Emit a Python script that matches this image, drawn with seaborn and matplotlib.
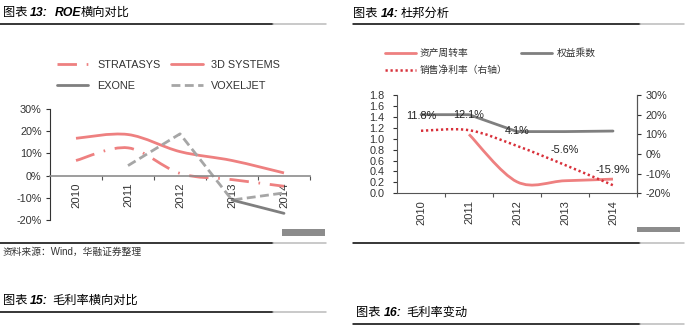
import numpy as np
import matplotlib
matplotlib.use("Agg")
import matplotlib.pyplot as plt
import seaborn as sns
from matplotlib.path import Path
from matplotlib.patches import PathPatch, Rectangle
from matplotlib.lines import Line2D
from matplotlib.ticker import FuncFormatter, FixedLocator

# ---- data ----
years = ["2010", "2011", "2012", "2013", "2014"]

# 图表13: ROE (%)
stratasys = [6.8, 12.5, 1.0, -1.8, -4.8]
systems_3d = [16.8, 18.5, 10.8, 6.8, 1.2]
exone = [np.nan, np.nan, np.nan, -11.0, -17.0]
voxeljet = [np.nan, 4.5, 18.8, -11.0, -7.8]

# 图表14: 杜邦分析
asset_turnover = [np.nan, 1.08, 0.21, 0.23, 0.26]
equity_multiplier = [1.44, 1.44, 1.13, 1.13, 1.14]
net_margin = [11.8, 12.1, 4.1, -5.6, -15.9]   # %, right axis

W, H = 687, 325
PINK = "#EE8080"
GRAY = "#7F7F7F"
LGRAY = "#A6A6A6"
RED = "#D8303A"
TXT = "#333333"

sns.set_theme(style="white")
plt.rcParams["font.family"] = ["Liberation Sans", "Noto Sans CJK SC"]
plt.rcParams["axes.unicode_minus"] = False

fig = plt.figure(figsize=(W / 100, H / 100), dpi=100)
fig.patch.set_facecolor("white")


def fx(x):
    return x / W


def fy(y):
    return 1 - y / H


def rule(x0, x1, xg, y):
    fig.add_artist(Line2D([fx(x0), fx(xg)], [fy(y), fy(y)], color="black", lw=1.1))
    fig.add_artist(Line2D([fx(xg), fx(x1)], [fy(y), fy(y)], color="#BBBBBB", lw=1.1))


def smooth_path(xs, ys):
    # Excel-style smoothed line: bezier through the data points
    pts = [(x, y) for x, y in zip(xs, ys) if not np.isnan(y)]
    verts = [pts[0]]
    codes = [Path.MOVETO]
    n = len(pts)
    for i in range(n - 1):
        p0, p1 = pts[max(i - 1, 0)], pts[i]
        p2, p3 = pts[i + 1], pts[min(i + 2, n - 1)]
        c1 = (p1[0] + (p2[0] - p0[0]) / 6, p1[1] + (p2[1] - p0[1]) / 6)
        c2 = (p2[0] - (p3[0] - p1[0]) / 6, p2[1] - (p3[1] - p1[1]) / 6)
        verts += [c1, c2, p2]
        codes += [Path.CURVE4] * 3
    return Path(verts, codes)


def title(x, y, parts):
    for xx, s, bold in parts:
        fig.text(fx(xx), fy(y), s, fontsize=8.8, color="black", va="center", ha="left",
                 fontweight="bold" if bold else "normal",
                 fontstyle="italic" if bold else "normal")


def setup_cat_axis(ax, pad, size):
    ax.set_xlim(-0.5, 4.5)
    ax.xaxis.set_major_locator(FixedLocator(range(5)))
    ax.set_xticklabels(years, rotation=90, va="top", ha="center", fontsize=size, color=TXT)
    ax.xaxis.set_minor_locator(FixedLocator([0.5, 1.5, 2.5, 3.5, 4.5]))
    ax.tick_params(axis="x", which="major", length=0, pad=pad)
    ax.tick_params(axis="x", which="minor", length=3, width=0.8, color="#555555",
                   direction="out", bottom=True)
    ax.set_xlabel("")
    ax.set_ylabel("")


xpos = np.arange(5)

# ---------------- 图表13 ----------------
title(0, 13, [(3, "图表", False), (30, "13:", True), (55, "ROE", True), (81, "横向对比", False)])
rule(0, 326, 273, 24)

ax1 = fig.add_axes([fx(50), fy(220), 260 / W, 111 / H])
ax1.set_facecolor("white")
sns.lineplot(x=xpos, y=voxeljet, ax=ax1, color=LGRAY, lw=2, dashes=False)
ax1.lines[-1].set_dashes((3.2, 1.6))
sns.lineplot(x=xpos, y=exone, ax=ax1, color=GRAY, lw=2)
ax1.add_patch(PathPatch(smooth_path(xpos, systems_3d), fill=False, ec=PINK, lw=2))
ax1.add_patch(PathPatch(smooth_path(xpos, stratasys), fill=False, ec=PINK, lw=2,
                        ls=(0, (7, 3.5, 0.6, 3.5))))
ax1.set_ylim(-20, 30)
for s in ["top", "right"]:
    ax1.spines[s].set_visible(False)
ax1.spines["left"].set_color("#333333")
ax1.spines["left"].set_linewidth(0.8)
ax1.spines["bottom"].set_position(("data", 0))
ax1.spines["bottom"].set_color("#8C8C8C")
ax1.spines["bottom"].set_linewidth(1.2)
ax1.yaxis.set_major_locator(FixedLocator([-20, -10, 0, 10, 20, 30]))
ax1.yaxis.set_major_formatter(FuncFormatter(lambda v, p: f"{v:.0f}%"))
ax1.tick_params(axis="y", length=3, width=0.8, color="#333333", direction="out",
                left=True, pad=3, labelsize=7.8, labelcolor=TXT)
setup_cat_axis(ax1, 5, 8.2)
ax1.grid(False)

h_left = [
    Line2D([], [], color=PINK, lw=2, ls=(0, (7, 3.5, 0.6, 3.5))),
    Line2D([], [], color=GRAY, lw=2),
    Line2D([], [], color=PINK, lw=2),
    Line2D([], [], color=LGRAY, lw=2, ls=(0, (3.2, 1.6))),
]
l_left = ["STRATASYS", "EXONE", "3D SYSTEMS", "VOXELJET"]
fig.legend(h_left, l_left, loc="upper left", bbox_to_anchor=(fx(57), fy(60)), ncol=2,
           frameon=False, fontsize=7.8, handlelength=2.9, handletextpad=0.8,
           columnspacing=1.0, labelspacing=1.0, borderpad=0, borderaxespad=0,
           labelcolor=TXT)

rule(0, 326, 273, 243)
fig.add_artist(Rectangle((fx(282), fy(236)), 43 / W, 7 / H, color="#8C8C8C", lw=0))
fig.text(fx(3), fy(252), "资料来源：Wind，华融证券整理", fontsize=7, color=TXT, va="center")

# ---------------- 图表14 ----------------
title(0, 14, [(353, "图表", False), (381, "14:", True), (401, "杜邦分析", False)])
rule(353, 684, 640, 24)

ax2 = fig.add_axes([fx(397), fy(193.3), 240 / W, 98.3 / H])
ax2.set_facecolor("white")
sns.lineplot(x=xpos, y=equity_multiplier, ax=ax2, color=GRAY, lw=2)
ax2.add_patch(PathPatch(smooth_path(xpos, asset_turnover), fill=False, ec=PINK, lw=2))
ax2.set_ylim(0, 1.8)
ax2.yaxis.set_major_locator(FixedLocator(np.arange(0, 1.81, 0.2)))
ax2.yaxis.set_major_formatter(FuncFormatter(lambda v, p: f"{v:.1f}"))
ax2.tick_params(axis="y", length=3, width=0.8, color="#333333", direction="out",
                left=True, pad=6, labelsize=7.8, labelcolor=TXT)
setup_cat_axis(ax2, 5, 8)
ax2.spines["top"].set_visible(False)
for s in ["left", "bottom", "right"]:
    ax2.spines[s].set_color("#555555")
    ax2.spines[s].set_linewidth(0.8)
ax2.grid(False)

ax3 = ax2.twinx()
ax3.add_patch(PathPatch(smooth_path(xpos, net_margin), fill=False, ec=RED, lw=1.8,
                        ls=(0, (0.9, 1.1))))
ax3.set_ylim(-20, 30)
ax3.set_xlim(-0.5, 4.5)
ax3.yaxis.set_major_locator(FixedLocator([-20, -10, 0, 10, 20, 30]))
ax3.yaxis.set_major_formatter(FuncFormatter(lambda v, p: f"{v:.0f}%"))
ax3.tick_params(axis="y", length=3, width=0.8, color="#333333", direction="out",
                right=True, pad=3, labelsize=7.8, labelcolor=TXT)
for s in ["top", "left", "bottom"]:
    ax3.spines[s].set_visible(False)
ax3.spines["right"].set_color("#555555")
ax3.spines["right"].set_linewidth(0.8)
ax3.grid(False)
for x, v in zip(xpos, net_margin):
    ax3.annotate(f"{v:.1f}%", (x, v), xytext=(0, 11), textcoords="offset points",
                 ha="center", va="center", fontsize=7.8, color="#222222")

h_right = [
    Line2D([], [], color=PINK, lw=2),
    Line2D([], [], color=RED, lw=1.8, ls=(0, (0.9, 1.1))),
    Line2D([], [], color=GRAY, lw=2),
]
l_right = ["资产周转率", "销售净利率（右轴）", "权益乘数"]
fig.legend(h_right, l_right, loc="upper left", bbox_to_anchor=(fx(385), fy(48)), ncol=2,
           frameon=False, handlelength=3.2, handletextpad=0.4,
           columnspacing=1.4, labelspacing=0.75, borderpad=0, borderaxespad=0,
           labelcolor=TXT, prop={"family": "Noto Sans CJK SC", "size": 7})

rule(353, 684, 640, 243)
fig.add_artist(Rectangle((fx(637), fy(232)), 43 / W, 5 / H, color="#8C8C8C", lw=0))

# ---------------- next section titles ----------------
title(0, 301, [(3, "图表", False), (30, "15:", True), (52, "毛利率横向对比", False)])
rule(0, 326, 273, 312)
title(0, 313, [(356, "图表", False), (384, "16:", True), (406, "毛利率变动", False)])
rule(353, 684, 640, 324)

fig.savefig("out.png", dpi=100, facecolor="white")
